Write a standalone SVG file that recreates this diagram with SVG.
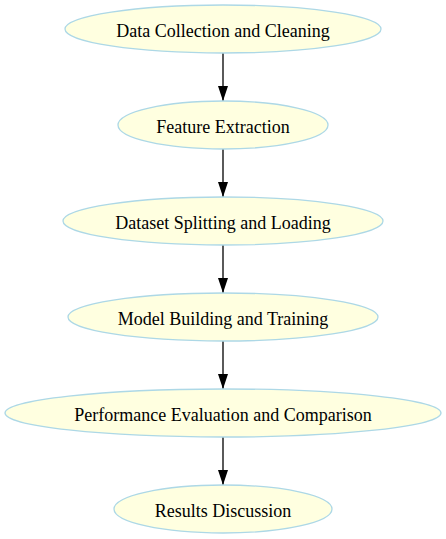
<svg xmlns="http://www.w3.org/2000/svg" width="446" height="539" viewBox="0 0 446 539">
<style>
.n ellipse{fill:#ffffe0;stroke:#add8e6;stroke-width:1.3}
.n text{font-family:"Liberation Serif","Times New Roman",serif;font-size:18px;text-anchor:middle;fill:#000}
.e line{stroke:#000;stroke-width:1.3}
</style>
<defs>
<marker id="ah" markerWidth="15" markerHeight="10" refX="15" refY="5" orient="auto" markerUnits="userSpaceOnUse" viewBox="0 0 15 10">
<path d="M0,0 L15,5 L0,10 Z" fill="#000"/>
</marker>
</defs>
<rect width="446" height="539" fill="#fff"/>
<g class="e">
<line x1="223" y1="53" x2="223" y2="101" marker-end="url(#ah)"/>
<line x1="223" y1="149" x2="223" y2="197" marker-end="url(#ah)"/>
<line x1="223" y1="245" x2="223" y2="293" marker-end="url(#ah)"/>
<line x1="223" y1="341" x2="223" y2="389" marker-end="url(#ah)"/>
<line x1="223" y1="437" x2="223" y2="485" marker-end="url(#ah)"/>
</g>
<g id="n1" class="n"><ellipse cx="223" cy="29" rx="158" ry="24"/><text x="223" y="37">Data Collection and Cleaning</text></g>
<g id="n2" class="n"><ellipse cx="223" cy="125" rx="105" ry="24"/><text x="223" y="133">Feature Extraction</text></g>
<g id="n3" class="n"><ellipse cx="223" cy="221" rx="160" ry="24"/><text x="223" y="229">Dataset Splitting and Loading</text></g>
<g id="n4" class="n"><ellipse cx="223" cy="317" rx="155" ry="24"/><text x="223" y="325">Model Building and Training</text></g>
<g id="n5" class="n"><ellipse cx="223" cy="413" rx="218" ry="24"/><text x="223" y="421">Performance Evaluation and Comparison</text></g>
<g id="n6" class="n"><ellipse cx="223" cy="509" rx="109" ry="24"/><text x="223" y="517">Results Discussion</text></g>
</svg>
